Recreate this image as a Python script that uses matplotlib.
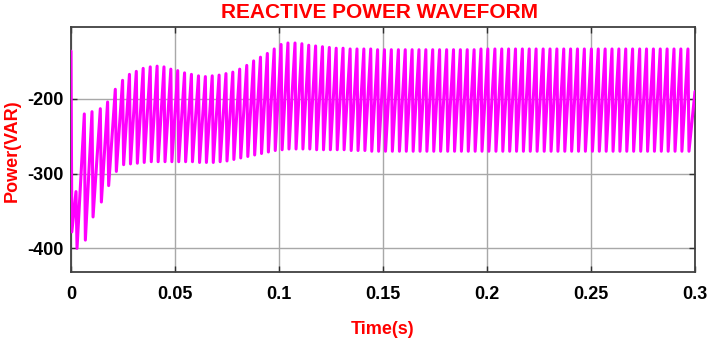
import matplotlib
matplotlib.use("Agg")
import matplotlib.pyplot as plt
import numpy as np

plt.rcParams['font.family'] = ['Liberation Sans', 'DejaVu Sans']

# ---- data ----
start_t = [0.0, 0.0004]
start_v = [-136, -378]

peak_t = [0.0024, 0.0064, 0.0101, 0.0141, 0.0176, 0.0213, 0.0248,
          0.0281, 0.0314, 0.0347, 0.0381, 0.0414, 0.0447, 0.0480, 0.0513,
          0.0546, 0.0579, 0.0613, 0.0646, 0.0679, 0.0712, 0.0745, 0.0778,
          0.0811, 0.0845, 0.0878, 0.0911, 0.0944, 0.0977, 0.1010, 0.1043,
          0.1077, 0.1110, 0.1143, 0.1176, 0.1209, 0.1242, 0.1275, 0.1308,
          0.1342, 0.1375, 0.1408, 0.1441, 0.1474, 0.1507, 0.1540, 0.1574,
          0.1607, 0.1640, 0.1673, 0.1706, 0.1739, 0.1772, 0.1806, 0.1839,
          0.1872, 0.1905, 0.1938, 0.1971, 0.2004, 0.2038, 0.2071, 0.2104,
          0.2137, 0.2170, 0.2203, 0.2236, 0.2270, 0.2303, 0.2336, 0.2369,
          0.2402, 0.2435, 0.2468, 0.2502, 0.2535, 0.2568, 0.2601, 0.2634,
          0.2667, 0.2700, 0.2734, 0.2767, 0.2800, 0.2833, 0.2866, 0.2899,
          0.2932, 0.2966]

peak_v = [-324, -220, -217, -213, -204, -187, -175,
          -167, -163, -159, -157, -156, -157, -160, -162,
          -165, -167, -169, -170, -169, -168, -166, -164,
          -160, -155, -149, -144, -139, -133, -127, -125,
          -125, -126, -128, -129, -130, -131, -132, -132,
          -133, -133, -133, -133, -134, -134, -134, -134,
          -134, -134, -134, -134, -134, -134, -134, -134,
          -134, -134, -134, -133, -133, -133, -133, -133,
          -133, -133, -133, -133, -133, -133, -133, -133,
          -133, -133, -133, -133, -133, -133, -133, -133,
          -133, -133, -133, -133, -133, -133, -133, -133,
          -133, -133]

trough_v = [-400, -389, -358, -338, -316, -297, -288,
            -287, -286, -285, -284, -284, -284, -284, -284,
            -284, -284, -285, -285, -285, -284, -283, -281,
            -279, -277, -275, -273, -271, -269, -268, -267,
            -267, -267, -267, -268, -268, -268, -268, -268,
            -269, -269, -269, -270, -270, -270, -270, -270,
            -270, -270, -270, -270, -270, -270, -270, -270,
            -270, -270, -270, -270, -270, -270, -270, -270,
            -270, -270, -270, -270, -270, -270, -270, -270,
            -270, -270, -270, -270, -270, -270, -270, -270,
            -270, -270, -270, -270, -270, -270, -270, -270,
            -270, -270]

end_t = [0.3]
end_v = [-190]

x_ticks = [0, 0.05, 0.1, 0.15, 0.2, 0.25, 0.3]
x_tick_labels = ['0', '0.05', '0.1', '0.15', '0.2', '0.25', '0.3']
y_ticks = [-400, -300, -200]
y_tick_labels = ['-400', '-300', '-200']

# ---- assemble the waveform ----
fall_delay = 0.0005
t = list(start_t)
v = list(start_v)
for pt, pv, tv in zip(peak_t, peak_v, trough_v):
    t += [pt, pt + fall_delay]
    v += [pv, tv]
t += end_t
v += end_v

fig = plt.figure(figsize=(7.10, 3.44), dpi=100)
ax = fig.add_axes([71 / 710, 1 - 272 / 344, 624 / 710, 245 / 344])

ax.plot(t, v, color='#ff00ff', linewidth=2.2, solid_joinstyle='round',
        solid_capstyle='round', zorder=3)

ax.set_xlim(0, 0.3)
ax.set_ylim(-431.7, -103.6)
ax.set_xticks(x_ticks)
ax.set_xticklabels(x_tick_labels)
ax.set_yticks(y_ticks)
ax.set_yticklabels(y_tick_labels)

ax.grid(True, color='#a8a8a8', linewidth=1.0, zorder=1)
ax.tick_params(axis='both', direction='in', length=4, width=1.0,
               color='#303030', top=True, right=True, labelsize=13)
ax.tick_params(axis='x', pad=10)
ax.tick_params(axis='y', pad=5.5)
for lab in ax.get_xticklabels() + ax.get_yticklabels():
    lab.set_fontweight('bold')
for s in ax.spines.values():
    s.set_color('#404040')
    s.set_linewidth(1.3)

fig.text(380 / 710, 1 - 12.5 / 344, 'REACTIVE POWER WAVEFORM', color='red',
         fontsize=15, fontweight='bold', ha='center', va='center')
fig.text(383 / 710, 1 - 330 / 344, 'Time(s)', color='red',
         fontsize=13, fontweight='bold', ha='center', va='center')
fig.text(12 / 710, 1 - 151 / 344, 'Power(VAR)', color='red',
         fontsize=13, fontweight='bold', ha='center', va='center', rotation=90)

fig.savefig('out.png', dpi=100)
